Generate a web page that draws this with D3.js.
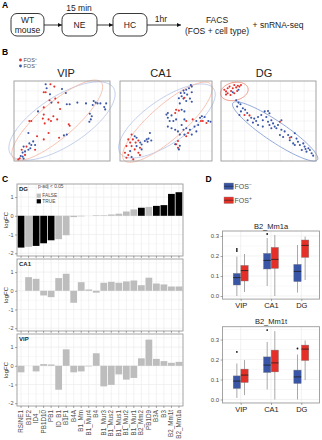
<!DOCTYPE html>
<html>
<head>
<meta charset="utf-8">
<script src="https://cdn.jsdelivr.net/npm/d3@7"></script>
<style>
  body { margin: 0; background: #fff; }
  svg { display: block; font-family: "Liberation Sans", Arial, sans-serif; }
</style>
</head>
<body>
<svg id="fig" width="322" height="440"></svg>
<script>
/* * * * * * * * * * * * * *
*          DATA            *
* * * * * * * * * * * * * */

// B: cell embeddings per region, [dim1, dim2, fos+ (1) / fos- (0)]
const vipCells = [
  [33,96,0],[38,96,1],[42,93,1],[34,91,0],[31,86,1],[33,86,1],[37.5,83.5,0],[50,90,0],[54,85,0],
  [43,78,1],[37,76,1],[39,73,0],[46,73,1],[55,71,0],[58,71,0],[66,73,0],[75,72,0],[83,75,0],
  [85,73,0],[87,72,0],[90,72,0],[96,72,0],[94,67.5,0],[82,70,0],[95,64.5,0],[48,65,1],[31,67,1],
  [25,62,0],[79,59,0],[81,56,0],[80,52,0],[78.5,49,0],[31,58,1],[41,56,1],[30,53,1],[36,52,1],
  [38.5,50,1],[45,52,1],[16,50,1],[18,50,1],[57,46,1],[58,44,1],[32,47,1],[36,35,1],[15,35,0],
  [55,33,0],[52,32,0],[24,31,1],[47,29,1],[31,27,1],[20,24.5,0],[16,22,0],[18,20,0],[22,20,0],
  [10,18,0],[13,18,1],[17,16,0],[22,14,1],[8,14,1],[11.5,12,0],[9,10.5,0],[15,14,0],[11.5,7.6,1],
  [9,5.5,0],[6,3.4,1],[10,3,0],[4.5,2,1],[7,6.3,0]
];
const ca1Cells = [
  [77,95,0],[78,93,0],[75,91,0],[72,89,0],[69,88,0],[66,85,0],[70,85,0],[78,86,0],[73,83,0],
  [67,81,0],[64,78.5,0],[69,78,0],[76,78,0],[72,75,0],[78,74,0],[65,72,0],[70,79,1],
  [61,64,1],[64,63,1],[67,64,0],[70,62,0],[52,60,0],[50.5,58,0],[56,57,0],[60,60,1],[52,54,0],
  [54,50,0],[58,50,0],[61,52,0],[70,52,0],[72,50,1],[67,45,0],[52,43,0],[56,41,0],[60,39,0],
  [63,37,0],[69,39,0],[72,41,0],[76,39,0],[74,35,1],[78,33,0],[70,33,0],[72,31,1],[65,33,0],
  [79,52,1],[83,50,0],[87,54,0],[89,56,0],[92,55,0],[88,50,1],[90,50,1],[96,50,0],[98.5,49,0],
  [94,47.5,1],[85,45,0],[81,43,0],[83,37,0],
  [63,25,1],[61,21,1],[65,19,0],[63,16.5,1],[64,14.5,0],[60,21,0],
  [12.6,33,1],[16,31,0],[18,29,0],[9,27,1],[14,27,1],[20,25.6,1],[11,23,1],[17,23,1],[22,23,0],
  [7,18.6,1],[12.6,18.6,1],[18,18.6,0],[23.5,20.7,0],[27,25,0],[29,27,0],[31,28,0],[34,25.6,0],
  [30,24,0],[32.5,35,0],[21.7,16.5,1],[16,14.5,1],[11,12.4,0],[20,10.3,1],[5.4,10.3,1],[9,7.4,1],
  [12.6,5,0],[7,4,1],[14.4,2,1],[23.5,14.5,0],[21.7,7.4,1]
];
const dgCells = [
  [3.5,89,1],[5.3,87,1],[7,91,1],[9,93,1],[10.6,87.5,1],[12.4,91,1],[14,95,1],[16,92,1],[17.7,94,1],
  [19.4,93,1],[7,84.6,1],[10,82.5,1],[14,84.6,1],[12.4,86,0],[17,87.5,1],[18.4,89,0],[5.3,83,1],[21,95,1],
  [16,76,0],[18.4,73,0],[20.5,71,0],[17,68,0],[23,66,0],[25.4,64,0],[21,62,0],[19.4,57.5,0],
  [24.7,57.5,1],[27.6,60,0],[30,57,1],[31.8,54,0],[35,53,0],[37,50,0],[28,51,0],[33.6,48,0],
  [39,55,0],[42.4,57.5,0],[46,62,0],[49.5,62.5,0],[51,59.6,0],[47.7,55,0],[44,51,0],[49.5,49,0],
  [53,51,0],[54.8,47,0],[51,45,0],[56.5,43,0],[60,45,0],[62,49,1],[63.6,51,0],[58.3,41,0],
  [53,41,0],[63.6,39,0],[67,37,0],[70.7,32.5,0],[65.4,30,0],[62,32.5,0],[74,30,0],[77.7,34.6,0],
  [79.5,28,0],[72.4,26,0],[76,22,0],[81,24,0],[72.4,29,1],[83,20,0],[86.6,22,0],[88,18,0],
  [92,16,0],[90,11.7,0],[93.6,13.7,0],[95.4,9.6,0],[97,6.7,0],[89,15,0],[85,13.7,0],[77.7,20,0],
  [39,45,0],[44,43,0]
];
// group ellipses: centre, semi axes, angle (deg) in embedding units
const vipEllipses = [
  {grp: 0, cx: 50, cy: 50, a: 68, b: 29, angle: 40},
  {grp: 1, cx: 45, cy: 51, a: 66, b: 20, angle: 47}
];
const ca1Ellipses = [
  {grp: 0, cx: 51, cy: 50, a: 65, b: 26, angle: 40},
  {grp: 1, cx: 51.5, cy: 48.5, a: 67, b: 20, angle: 46}
];
const dgEllipses = [
  {grp: 0, cx: 57, cy: 37, a: 57, b: 12, angle: -39},
  {grp: 1, cx: 14, cy: 87, a: 15, b: 11, angle: 20}
];

// C: repeat families, logFC per region
const repeats = ["RSINE1","B1F2","ID4_","PB1D10","PB1","ID_B1","B1F1","B4A","B1_Mm","B1_Mur4","B4",
  "B1_Mur3","B1_Mus2","B1_Mus1","B1_Mur2","B1_Mur1","B2_Mm2","PB1D9","B3A","B3","B2_Mm1t","B2_Mm1a"];
const dgLogFC  = [-1.70,-1.66,-1.61,-1.47,-1.31,-1.25,-1.04,-0.07,-0.03,0.0,0.03,0.03,0.07,0.11,0.23,0.34,0.43,0.47,0.53,0.57,1.17,1.26];
const dgSig    = [1,0,1,1,1,0,0,0,0,0,0,0,0,0,0,0,1,0,1,1,1,1];
const ca1LogFC = [0.0,0.73,0.64,-0.25,-0.34,0.68,0.91,-0.64,0.46,0.07,-0.10,0.43,0.48,0.43,0.50,0.55,0.30,0.70,0.39,0.34,0.23,0.23];
const ca1Sig   = new Array(22).fill(0);
const vipLogFC = [-0.35,0.0,-0.30,0.09,0.07,-1.28,0.88,-0.35,-0.30,-0.03,0.67,-1.10,-1.02,-0.46,-0.74,-0.65,0.40,1.40,0.37,0.25,0.16,0.21];
const vipSig   = new Array(22).fill(0);
const logFCTicks = [-2, -1, 0, 1];

// D: box statistics per region (VIP, CA1, DG)
const regions = ["VIP", "CA1", "DG"];
const mm1aNeg = [
  {lo: 0.0,  q1: 0.055, med: 0.092, q3: 0.113, hi: 0.197, out: [0.225, 0.235]},
  {lo: 0.05, q1: 0.135, med: 0.178, q3: 0.213, hi: 0.29,  out: [0.31]},
  {lo: 0.017, q1: 0.072, med: 0.123, q3: 0.158, hi: 0.255, out: []}
];
const mm1aPos = [
  {lo: 0.02, q1: 0.075, med: 0.127, q3: 0.153, hi: 0.21,  out: []},
  {lo: 0.0,  q1: 0.138, med: 0.183, q3: 0.243, hi: 0.305, out: []},
  {lo: 0.08, q1: 0.193, med: 0.253, q3: 0.28,  hi: 0.297, out: []}
];
const mm1tNeg = [
  {lo: 0.008, q1: 0.055, med: 0.092, q3: 0.118, hi: 0.18,  out: [0.238]},
  {lo: 0.05,  q1: 0.135, med: 0.172, q3: 0.213, hi: 0.288, out: [0.347]},
  {lo: 0.0,   q1: 0.08,  med: 0.113, q3: 0.147, hi: 0.225, out: [0.255]}
];
const mm1tPos = [
  {lo: 0.022, q1: 0.085, med: 0.122, q3: 0.152, hi: 0.197, out: []},
  {lo: 0.0,   q1: 0.138, med: 0.183, q3: 0.247, hi: 0.342, out: []},
  {lo: 0.097, q1: 0.195, med: 0.252, q3: 0.272, hi: 0.295, out: []}
];
const fracTicks = [0, 0.1, 0.2, 0.3];

/* * * * * * * * * * * * * *
*         DRAWING          *
* * * * * * * * * * * * * */

const svg = d3.select("#fig");
const RED = "#e5302a", BLUE = "#3955a6";
const TXT = "#4d4d4d", GRID = "#e9e9e9", BORDER = "#9a9a9a";

function letter(txt, x, y) {
    svg.append("text").attr("x", x).attr("y", y)
        .attr("font-size", 8.5).attr("font-weight", "bold").text(txt);
}

function fosLabel(sel, sign, size) {
    sel.append("tspan").text("FOS");
    sel.append("tspan").attr("dy", -size * 0.4).attr("font-size", size * 0.7).text(sign);
}

// ---------- A: workflow ----------
letter("A", 2, 8);

svg.append("defs").append("marker")
    .attr("id", "arrow").attr("viewBox", "0 0 6 6")
    .attr("refX", 6).attr("refY", 3)
    .attr("markerWidth", 5).attr("markerHeight", 5)
    .attr("orient", "auto")
    .append("path").attr("d", "M0,0L6,3L0,6Z").attr("fill", "#111");

const steps = [
    {lines: ["WT", "mouse"], x: 11, w: 33},
    {lines: ["NE"], x: 62, w: 35},
    {lines: ["HC"], x: 113, w: 34}
];
const gA = svg.append("g").attr("font-size", 8.5).attr("fill", "#222");
steps.forEach((s, i) => {
    gA.append("rect").attr("x", s.x).attr("y", 13.5).attr("width", s.w).attr("height", 22.5)
        .attr("rx", 6).attr("fill", "none").attr("stroke", "#222").attr("stroke-width", 0.9);
    s.lines.forEach((l, j) => {
        gA.append("text").attr("x", s.x + s.w / 2)
            .attr("y", s.lines.length === 1 ? 28 : 23 + j * 10)
            .attr("text-anchor", "middle").text(l);
    });
    const next = i < steps.length - 1 ? steps[i + 1].x : 181;
    gA.append("line").attr("x1", s.x + s.w).attr("x2", next).attr("y1", 25).attr("y2", 25)
        .attr("stroke", "#222").attr("stroke-width", 0.9).attr("marker-end", "url(#arrow)");
});
gA.append("text").attr("x", 79).attr("y", 11).attr("text-anchor", "middle").text("15 min");
gA.append("text").attr("x", 161).attr("y", 22).attr("text-anchor", "middle").text("1hr");
gA.append("text").attr("x", 217).attr("y", 23).attr("text-anchor", "middle").text("FACS");
gA.append("text").attr("x", 217).attr("y", 34).attr("text-anchor", "middle").text("(FOS + cell type)");
gA.append("text").attr("x", 278).attr("y", 28).attr("text-anchor", "middle").text("+ snRNA-seq");

// ---------- B: embeddings ----------
letter("B", 2, 55);

const gLeg = svg.append("g").attr("font-size", 5.5).attr("fill", TXT);
[[1, "+", 60], [0, "\u2212", 66]].forEach(([grp, sign, y]) => {
    gLeg.append("circle").attr("cx", 20.5).attr("cy", y).attr("r", 1.4).attr("fill", grp ? RED : BLUE);
    fosLabel(gLeg.append("text").attr("x", 23.5).attr("y", y + 2), sign, 5.5);
});

function ellipsePoints(e) {
    const t = e.angle * Math.PI / 180;
    return d3.range(0, 361, 4).map(deg => {
        const u = deg * Math.PI / 180;
        return [e.cx + e.a * Math.cos(u) * Math.cos(t) - e.b * Math.sin(u) * Math.sin(t),
                e.cy + e.a * Math.cos(u) * Math.sin(t) + e.b * Math.sin(u) * Math.cos(t)];
    });
}

const scatterPanels = [
    {title: "VIP", cells: vipCells, ellipses: vipEllipses, x0: 14, x1: 110, tx: 66, ell: ["#bccaea", "#f6bca9"]},
    {title: "CA1", cells: ca1Cells, ellipses: ca1Ellipses, x0: 120, x1: 212, tx: 161, ell: ["#bccaea", "#f6bca9"]},
    {title: "DG", cells: dgCells, ellipses: dgEllipses, x0: 221, x1: 316, tx: 264, ell: ["#87a0d6", "#ee8a78"]}
];

scatterPanels.forEach(p => {
    const x = d3.scaleLinear().domain([0, 100]).range([p.x0, p.x1]);
    const y = d3.scaleLinear().domain([0, 100]).range([161, 81]);
    const g = svg.append("g");

    // grid
    const gridVals = d3.range(12.5, 100, 12.5);
    g.selectAll(".gx").data(gridVals).join("line")
        .attr("x1", d => x(d)).attr("x2", d => x(d)).attr("y1", y(0)).attr("y2", y(100))
        .attr("stroke", GRID).attr("stroke-width", 0.5);
    g.selectAll(".gy").data(gridVals).join("line")
        .attr("y1", d => y(d)).attr("y2", d => y(d)).attr("x1", x(0)).attr("x2", x(100))
        .attr("stroke", GRID).attr("stroke-width", 0.5);

    // group ellipses
    const line = d3.line().x(d => x(d[0])).y(d => y(d[1]));
    g.selectAll(".ell").data(p.ellipses).join("path")
        .attr("d", e => line(ellipsePoints(e)) + "Z")
        .attr("fill", "none").attr("stroke", e => p.ell[e.grp]).attr("stroke-width", 0.9);

    // cells
    g.selectAll(".cell").data(p.cells).join("circle")
        .attr("cx", d => x(d[0])).attr("cy", d => y(d[1])).attr("r", 1.05)
        .attr("fill", d => d[2] ? RED : BLUE);

    g.append("rect").attr("x", p.x0).attr("y", 81).attr("width", p.x1 - p.x0).attr("height", 80)
        .attr("fill", "none").attr("stroke", BORDER).attr("stroke-width", 0.9);

    svg.append("text").attr("x", p.tx).attr("y", 76.5).attr("text-anchor", "middle")
        .attr("font-size", 11).attr("fill", "#222").text(p.title);
});

// ---------- C: logFC bars ----------
letter("C", 2, 182);

const barX = d3.scaleBand().domain(repeats).range([17.3, 182.7])
    .paddingInner(0.1).paddingOuter(0.05);

const barPanels = [
    {name: "DG", values: dgLogFC, sig: dgSig, top: 184},
    {name: "CA1", values: ca1LogFC, sig: ca1Sig, top: 259},
    {name: "VIP", values: vipLogFC, sig: vipSig, top: 334}
];

barPanels.forEach((p, pi) => {
    const h = 72;
    const y = d3.scaleLinear().domain([-2.15, 1.7]).range([p.top + h, p.top]);
    const g = svg.append("g");

    // grid
    g.selectAll(".minor").data(d3.range(-1.5, 1.6, 1)).join("line")
        .attr("x1", 17).attr("x2", 183).attr("y1", d => y(d)).attr("y2", d => y(d))
        .attr("stroke", "#f3f3f3").attr("stroke-width", 0.5);
    g.selectAll(".major").data(logFCTicks).join("line")
        .attr("x1", 17).attr("x2", 183).attr("y1", d => y(d)).attr("y2", d => y(d))
        .attr("stroke", GRID).attr("stroke-width", 0.6);
    g.selectAll(".vg").data(repeats).join("line")
        .attr("x1", d => barX(d) + barX.bandwidth() / 2).attr("x2", d => barX(d) + barX.bandwidth() / 2)
        .attr("y1", p.top).attr("y2", p.top + h)
        .attr("stroke", GRID).attr("stroke-width", 0.6);

    // bars
    g.selectAll(".bar").data(repeats).join("rect")
        .attr("x", d => barX(d))
        .attr("width", barX.bandwidth())
        .attr("y", (d, i) => y(Math.max(0, p.values[i])))
        .attr("height", (d, i) => Math.abs(y(p.values[i]) - y(0)))
        .attr("fill", (d, i) => p.sig[i] ? "#000" : "#bdbdbd");

    g.append("rect").attr("x", 17).attr("y", p.top).attr("width", 166).attr("height", h)
        .attr("fill", "none").attr("stroke", BORDER).attr("stroke-width", 0.9);

    // axes
    const ay = g.append("g").attr("transform", "translate(17,0)")
        .call(d3.axisLeft(y).tickValues(logFCTicks).tickSize(2).tickPadding(1.5).tickFormat(d => String(d)));
    ay.select(".domain").remove();
    ay.selectAll("text").attr("font-size", 5.5).attr("fill", TXT);
    ay.selectAll("line").attr("stroke", "#555").attr("stroke-width", 0.5);

    const ax = g.append("g").attr("transform", `translate(0,${p.top + h})`)
        .call(d3.axisBottom(barX).tickSize(2).tickPadding(2));
    ax.select(".domain").remove();
    ax.selectAll("line").attr("stroke", "#555").attr("stroke-width", 0.5);
    if (pi === barPanels.length - 1) {
        ax.selectAll("text")
            .attr("transform", "rotate(-90)")
            .attr("text-anchor", "end")
            .attr("x", -4).attr("y", 0).attr("dy", "0.32em")
            .attr("font-size", 6.3).attr("fill", TXT);
    } else {
        ax.selectAll("text").remove();
    }

    g.append("text").attr("transform", `translate(7.5,${p.top + h / 2}) rotate(-90)`)
        .attr("text-anchor", "middle").attr("font-size", 6).attr("fill", "#222").text("logFC");
    g.append("text").attr("x", 19).attr("y", p.top + 6.5)
        .attr("font-size", 6).attr("font-weight", "bold").attr("fill", "#222").text(p.name);
});

// significance legend inside DG panel
const gSig = svg.append("g").attr("font-size", 4.8).attr("fill", TXT);
gSig.append("text").attr("x", 38).attr("y", 188.3).text("p-adj < 0.05");
[["#bdbdbd", "FALSE", 193.6], ["#000", "TRUE", 199.2]].forEach(([c, t, yy]) => {
    gSig.append("rect").attr("x", 36.7).attr("y", yy).attr("width", 4.2).attr("height", 4.2).attr("fill", c);
    gSig.append("text").attr("x", 42.3).attr("y", yy + 3.8).text(t);
});

// ---------- D: boxplots ----------
letter("D", 205.5, 182);

const gKey = svg.append("g").attr("font-size", 7).attr("fill", TXT);
[[BLUE, "\u2212", 183], [RED, "+", 197]].forEach(([c, sign, yy]) => {
    gKey.append("rect").attr("x", 224).attr("y", yy).attr("width", 9.5).attr("height", 6.5)
        .attr("fill", c).attr("stroke", "#888").attr("stroke-width", 0.4);
    gKey.append("line").attr("x1", 224).attr("x2", 233.5).attr("y1", yy + 3.25).attr("y2", yy + 3.25)
        .attr("stroke", "#222").attr("stroke-width", 0.6);
    fosLabel(gKey.append("text").attr("x", 234.5).attr("y", yy + 5.8), sign, 7);
});

const regionX = d3.scalePoint().domain(regions).range([222.5, 319.5]).padding(0.6);
const dodge = d3.scaleBand().domain(["neg", "pos"]).range([-7.5, 7.5]).paddingInner(0.04);

const boxPanels = [
    {title: "B2_Mm1a", neg: mm1aNeg, pos: mm1aPos, top: 231, domain: [-0.0155, 0.325]},
    {title: "B2_Mm1t", neg: mm1tNeg, pos: mm1tPos, top: 326.7, domain: [-0.0174, 0.364]}
];

boxPanels.forEach(p => {
    const h = (p.domain[1] - p.domain[0]) * 200;
    const y = d3.scaleLinear().domain(p.domain).range([p.top + h, p.top]);
    const g = svg.append("g");
    const x0 = 222.5, x1 = 319.5;

    g.selectAll(".minor").data([0.05, 0.15, 0.25, 0.35].filter(v => v < p.domain[1])).join("line")
        .attr("x1", x0).attr("x2", x1).attr("y1", d => y(d)).attr("y2", d => y(d))
        .attr("stroke", "#f3f3f3").attr("stroke-width", 0.5);
    g.selectAll(".major").data(fracTicks).join("line")
        .attr("x1", x0).attr("x2", x1).attr("y1", d => y(d)).attr("y2", d => y(d))
        .attr("stroke", GRID).attr("stroke-width", 0.6);
    g.selectAll(".vg").data(regions).join("line")
        .attr("x1", d => regionX(d)).attr("x2", d => regionX(d)).attr("y1", p.top).attr("y2", p.top + h)
        .attr("stroke", GRID).attr("stroke-width", 0.6);

    const stats = [];
    regions.forEach((r, i) => {
        stats.push({r, grp: "neg", s: p.neg[i]});
        stats.push({r, grp: "pos", s: p.pos[i]});
    });
    const cx = d => regionX(d.r) + dodge(d.grp) + dodge.bandwidth() / 2;

    // whiskers
    g.selectAll(".wh").data(stats).join("line")
        .attr("x1", cx).attr("x2", cx)
        .attr("y1", d => y(d.s.lo)).attr("y2", d => y(d.s.hi))
        .attr("stroke", "#a8a8a8").attr("stroke-width", 1);
    // boxes
    g.selectAll(".box").data(stats).join("rect")
        .attr("x", d => regionX(d.r) + dodge(d.grp))
        .attr("width", dodge.bandwidth())
        .attr("y", d => y(d.s.q3))
        .attr("height", d => y(d.s.q1) - y(d.s.q3))
        .attr("fill", d => d.grp === "neg" ? BLUE : RED)
        .attr("stroke", "#7a7a7a").attr("stroke-width", 0.4);
    // medians
    g.selectAll(".med").data(stats).join("line")
        .attr("x1", d => regionX(d.r) + dodge(d.grp))
        .attr("x2", d => regionX(d.r) + dodge(d.grp) + dodge.bandwidth())
        .attr("y1", d => y(d.s.med)).attr("y2", d => y(d.s.med))
        .attr("stroke", "#1e1e1e").attr("stroke-width", 0.8);
    // outliers
    const outs = stats.flatMap(d => d.s.out.map(v => ({d, v})));
    g.selectAll(".out").data(outs).join("circle")
        .attr("cx", o => cx(o.d)).attr("cy", o => y(o.v)).attr("r", 0.9).attr("fill", "#111");

    g.append("rect").attr("x", x0).attr("y", p.top).attr("width", x1 - x0).attr("height", h)
        .attr("fill", "none").attr("stroke", BORDER).attr("stroke-width", 0.9);

    const ay = g.append("g").attr("transform", `translate(${x0},0)`)
        .call(d3.axisLeft(y).tickValues(fracTicks).tickSize(2).tickPadding(1.5).tickFormat(d3.format(".1f")));
    ay.select(".domain").remove();
    ay.selectAll("text").attr("font-size", 6).attr("fill", TXT);
    ay.selectAll("line").attr("stroke", "#555").attr("stroke-width", 0.5);

    const ax = g.append("g").attr("transform", `translate(0,${p.top + h})`)
        .call(d3.axisBottom(regionX).tickSize(2).tickPadding(1.5));
    ax.select(".domain").remove();
    ax.selectAll("text").attr("font-size", 7.5).attr("fill", "#222");
    ax.selectAll("line").attr("stroke", "#555").attr("stroke-width", 0.5);

    g.append("text").attr("x", (x0 + x1) / 2).attr("y", p.top - 2.5).attr("text-anchor", "middle")
        .attr("font-size", 7.5).attr("fill", "#222").text(p.title);
});
</script>
</body>
</html>
